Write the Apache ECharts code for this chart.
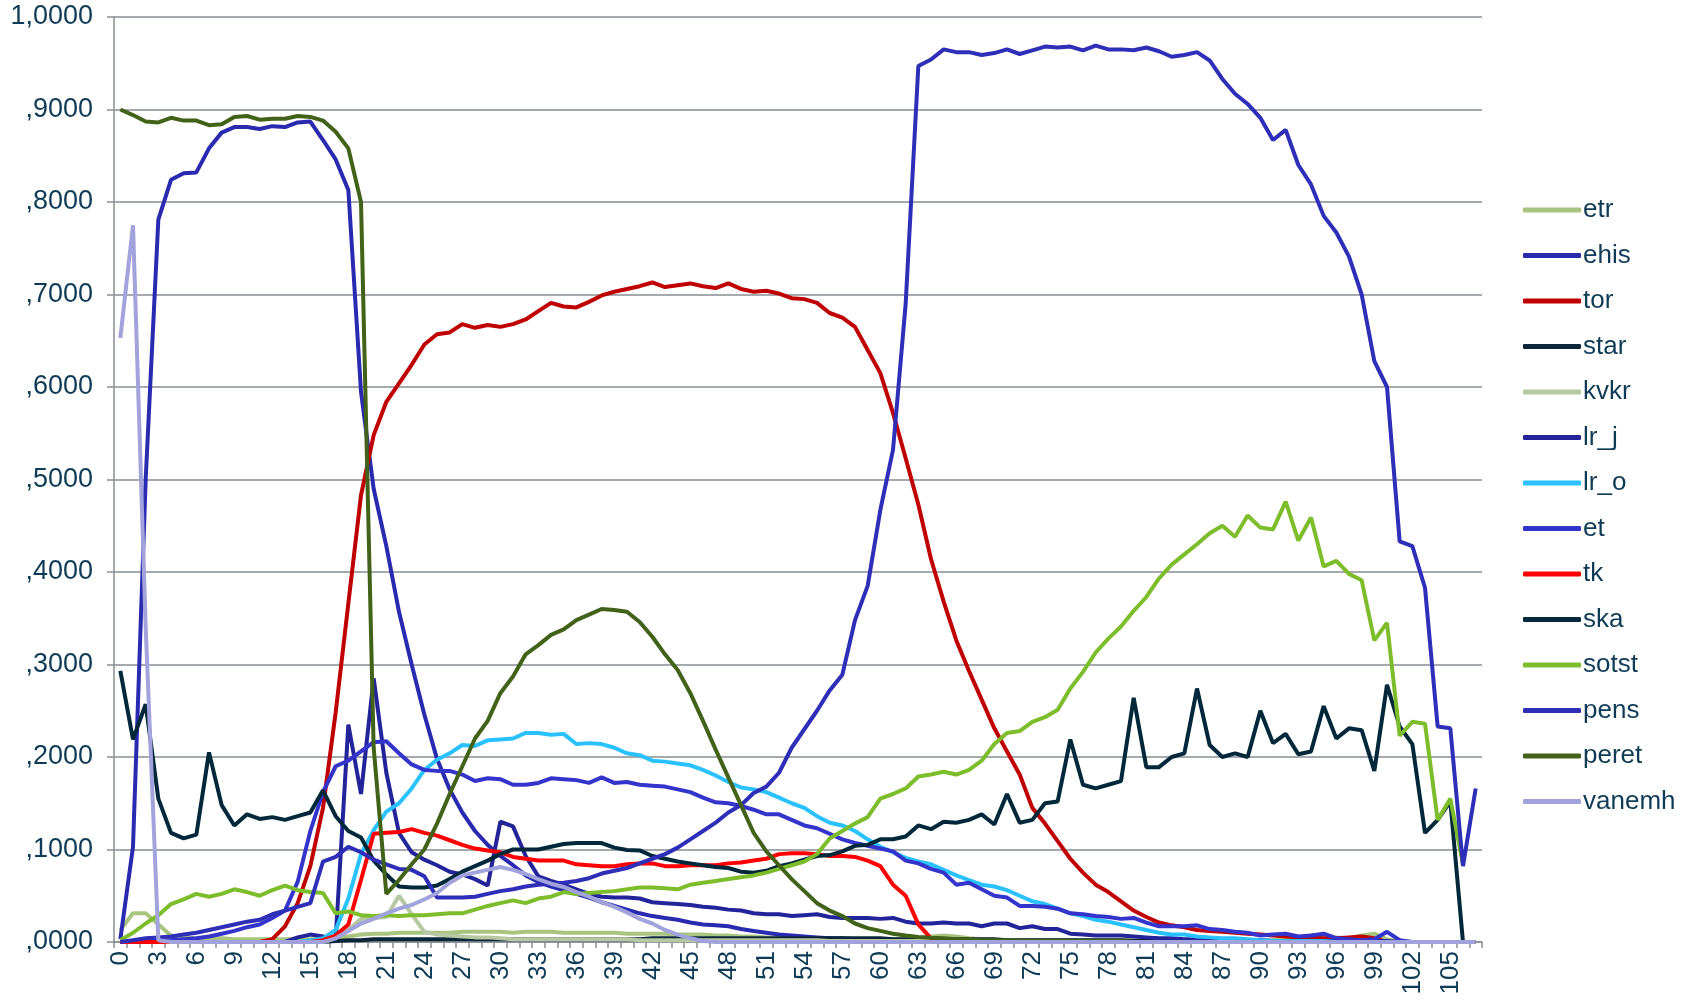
<!DOCTYPE html>
<html><head><meta charset="utf-8">
<script src="https://cdn.jsdelivr.net/npm/echarts@6/dist/echarts.min.js"></script>
<style>html,body{margin:0;padding:0;background:#fff}#c{width:1694px;height:1004px}</style>
</head><body><div id="c"></div>
<script>
const ages = ['0','1','2','3','4','5','6','7','8','9','10','11','12','13','14','15','16','17','18','19','20','21','22','23','24','25','26','27','28','29','30','31','32','33','34','35','36','37','38','39','40','41','42','43','44','45','46','47','48','49','50','51','52','53','54','55','56','57','58','59','60','61','62','63','64','65','66','67','68','69','70','71','72','73','74','75','76','77','78','79','80','81','82','83','84','85','86','87','88','89','90','91','92','93','94','95','96','97','98','99','100','101','102','103','104','105','106','107'];

const etr = [0.013,0.031,0.031,0.019,0.007,0.005,0.004,0.004,0.004,0.003,
 0.003,0.003,0.003,0.003,0.003,0.003,0.003,0.004,0.006,0.008,
 0.009,0.009,0.010,0.010,0.010,0.010,0.010,0.011,0.011,0.011,
 0.011,0.010,0.011,0.011,0.011,0.010,0.010,0.010,0.010,0.010,
 0.009,0.009,0.009,0.009,0.008,0.008,0.008,0.007,0.007,0.006,
 0.006,0.005,0.005,0.005,0.004,0.004,0.004,0.003,0.003,0.003,
 0.003,0.003,0.003,0.004,0.006,0.007,0.006,0.004,0.003,0.002,
 0.002,0.002,0.002,0.002,0.002,0.002,0.002,0.002,0.002,0.002,
 0.002,0.002,0.002,0.002,0.002,0.002,0.002,0.002,0.002,0.002,
 0.002,0.002,0.003,0.004,0.007,0.008,0.005,0.004,0.007,0.009,
 0.003,0,0,0,0,0,0,0];

const ehis = [0.003,0.103,0.50,0.781,0.824,0.831,0.832,0.858,0.875,0.881,
 0.881,0.879,0.882,0.881,0.886,0.887,0.867,0.846,0.813,0.595,
 0.49,0.428,0.357,0.30,0.246,0.198,0.165,0.14,0.12,0.105,
 0.093,0.083,0.072,0.065,0.060,0.056,0.052,0.048,0.043,0.039,
 0.035,0.031,0.028,0.026,0.024,0.021,0.019,0.018,0.017,0.014,
 0.012,0.010,0.008,0.007,0.006,0.005,0.004,0.004,0.003,0.003,
 0.002,0.002,0.002,0.002,0.001,0.001,0.001,0.001,0.001,0.001,
 0.001,0.001,0.001,0.001,0.001,0,0,0,0,0,
 0,0,0,0,0,0,0,0,0,0,
 0,0,0,0,0,0,0,0,0,0,
 0,0,0,0,0,0,0,0];

const tor = [0,0,0,0,0,0,0,0,0,0,
 0,0,0.003,0.017,0.042,0.082,0.145,0.248,0.366,0.483,
 0.548,0.584,0.604,0.624,0.646,0.657,0.659,0.668,0.664,0.667,
 0.665,0.668,0.673,0.682,0.691,0.687,0.686,0.692,0.699,0.703,
 0.706,0.709,0.713,0.708,0.710,0.712,0.709,0.707,0.712,0.706,
 0.703,0.704,0.701,0.696,0.695,0.691,0.680,0.675,0.665,0.640,
 0.615,0.572,0.523,0.473,0.414,0.368,0.326,0.293,0.262,0.231,
 0.206,0.181,0.145,0.128,0.109,0.090,0.075,0.062,0.054,0.044,
 0.034,0.027,0.021,0.018,0.016,0.013,0.012,0.011,0.010,0.009,
 0.008,0.007,0.006,0.005,0.005,0.004,0.004,0.005,0.006,0.004,
 0,0,0,0,0,0,0,0];

const star = [0,0,0,0,0,0,0,0,0,0,
 0,0,0,0,0,0,0,0.001,0.002,0.002,
 0.003,0.003,0.003,0.003,0.003,0.003,0.003,0.003,0.003,0.003,
 0.003,0.003,0.003,0.003,0.003,0.003,0.003,0.003,0.003,0.003,
 0.003,0.003,0.004,0.004,0.004,0.004,0.004,0.004,0.004,0.004,
 0.004,0.004,0.004,0.004,0.004,0.004,0.004,0.004,0.004,0.004,
 0.004,0.003,0.003,0.003,0.003,0.003,0.003,0.003,0.003,0.003,
 0.002,0.002,0.002,0.002,0.002,0.002,0.002,0.002,0.002,0.002,
 0.001,0.001,0.001,0.001,0.001,0.001,0.001,0.001,0.001,0.001,
 0,0,0,0,0,0,0,0,0,0,
 0,0,0,0,0,0,0,0];

const kvkr = [0,0,0,0,0,0,0,0,0,0,
 0,0,0,0,0,0,0,0.004,0.013,0.025,
 0.026,0.027,0.050,0.030,0.011,0.008,0.007,0.006,0.005,0.005,
 0.004,0.003,0.003,0.003,0.003,0.003,0.003,0.003,0.003,0.003,
 0.003,0.002,0.002,0.002,0.002,0.002,0.002,0.002,0.002,0.002,
 0.002,0.002,0.002,0.002,0.002,0.002,0.001,0.001,0.001,0.001,
 0.001,0.001,0.001,0.001,0.001,0.001,0.001,0.001,0.001,0.001,
 0.001,0,0,0,0,0,0,0,0,0,
 0,0,0,0,0,0,0,0,0,0,
 0,0,0,0,0,0,0,0,0,0,
 0,0,0,0,0,0,0,0];

const lr_j = [0,0,0,0,0,0,0,0,0,0,
 0,0,0,0,0.005,0.008,0.006,0.003,0.235,0.160,
 0.285,0.183,0.118,0.097,0.089,0.083,0.076,0.073,0.068,0.061,
 0.130,0.125,0.093,0.071,0.066,0.062,0.057,0.052,0.049,0.048,
 0.048,0.047,0.043,0.042,0.041,0.040,0.038,0.037,0.035,0.034,
 0.031,0.030,0.030,0.028,0.029,0.030,0.027,0.026,0.026,0.026,
 0.025,0.026,0.022,0.020,0.020,0.021,0.020,0.020,0.017,0.020,
 0.020,0.015,0.017,0.014,0.014,0.009,0.008,0.007,0.007,0.007,
 0.006,0.005,0.004,0.004,0.003,0.003,0.002,0.002,0.002,0.002,
 0.002,0.001,0.001,0.001,0.001,0.001,0.001,0.001,0.001,0.001,
 0.001,0,0,0,0,0,0,0];

const lr_o = [0,0,0,0,0,0,0,0,0,0,
 0,0,0,0,0,0.0015,0.004,0.013,0.047,0.095,
 0.121,0.141,0.150,0.166,0.186,0.197,0.204,0.213,0.212,0.218,
 0.219,0.220,0.226,0.226,0.224,0.225,0.214,0.215,0.214,0.210,
 0.204,0.202,0.196,0.195,0.193,0.191,0.186,0.180,0.173,0.167,
 0.165,0.162,0.156,0.150,0.145,0.136,0.129,0.126,0.120,0.111,
 0.103,0.097,0.091,0.087,0.084,0.078,0.072,0.067,0.062,0.060,
 0.056,0.050,0.044,0.041,0.036,0.031,0.028,0.024,0.022,0.019,
 0.016,0.013,0.010,0.008,0.008,0.006,0.005,0.004,0.004,0.003,
 0.002,0.001,0.001,0.001,0.001,0.001,0,0,0,0,
 0,0,0,0,0,0,0,0];

const et = [0,0.001,0.001,0.002,0.002,0.003,0.004,0.006,0.009,0.012,
 0.016,0.019,0.026,0.034,0.065,0.120,0.162,0.190,0.196,0.206,
 0.216,0.217,0.204,0.192,0.186,0.185,0.185,0.181,0.174,0.177,
 0.176,0.170,0.170,0.172,0.177,0.176,0.175,0.172,0.178,0.172,
 0.173,0.170,0.169,0.168,0.165,0.162,0.156,0.151,0.150,0.147,
 0.143,0.138,0.138,0.132,0.126,0.123,0.117,0.111,0.107,0.104,
 0.101,0.098,0.088,0.085,0.079,0.075,0.062,0.064,0.057,0.050,
 0.048,0.039,0.039,0.038,0.036,0.031,0.030,0.028,0.027,0.025,
 0.026,0.021,0.017,0.017,0.017,0.018,0.014,0.013,0.011,0.010,
 0.007,0.008,0.009,0.006,0.007,0.009,0.004,0.003,0.002,0.003,
 0.011,0.002,0,0,0,0,0,0];

const tk = [0,0,0,0,0,0,0,0,0,0,
 0,0,0,0,0,0,0.002,0.007,0.019,0.067,
 0.117,0.118,0.119,0.122,0.118,0.115,0.110,0.105,0.101,0.099,
 0.097,0.092,0.090,0.088,0.088,0.088,0.084,0.083,0.082,0.082,
 0.084,0.085,0.085,0.082,0.082,0.083,0.083,0.083,0.085,0.086,
 0.088,0.090,0.095,0.096,0.096,0.095,0.093,0.093,0.092,0.088,
 0.082,0.062,0.050,0.019,0.004,0,0,0,0,0,
 0,0,0,0,0,0,0,0,0,0,
 0,0,0,0,0,0,0,0,0,0,
 0,0,0,0,0,0,0,0,0,0,
 0,0,0,0,0,0,0,0];

const ska = [0.293,0.219,0.257,0.155,0.118,0.112,0.116,0.205,0.148,0.126,
 0.138,0.133,0.135,0.132,0.136,0.140,0.164,0.136,0.120,0.113,
 0.088,0.073,0.060,0.059,0.059,0.061,0.068,0.076,0.082,0.088,
 0.095,0.100,0.100,0.100,0.103,0.106,0.107,0.107,0.107,0.102,
 0.0995,0.099,0.093,0.090,0.087,0.085,0.083,0.081,0.080,0.076,
 0.075,0.077,0.082,0.085,0.089,0.093,0.094,0.098,0.104,0.105,
 0.111,0.111,0.114,0.126,0.122,0.130,0.129,0.132,0.138,0.127,
 0.160,0.129,0.132,0.150,0.152,0.219,0.170,0.166,0.170,0.174,
 0.264,0.189,0.189,0.200,0.204,0.274,0.213,0.200,0.204,0.200,
 0.250,0.215,0.225,0.203,0.206,0.255,0.220,0.231,0.229,0.185,
 0.278,0.233,0.214,0.118,0.132,0.152,0,null];

const sotst = [0.002,0.010,0.020,0.029,0.041,0.046,0.052,0.049,0.052,0.057,
 0.054,0.050,0.056,0.061,0.056,0.054,0.053,0.031,0.033,0.029,
 0.028,0.029,0.028,0.029,0.029,0.030,0.031,0.031,0.035,0.039,
 0.042,0.045,0.042,0.047,0.049,0.054,0.052,0.053,0.054,0.055,
 0.057,0.059,0.059,0.058,0.057,0.062,0.064,0.066,0.068,0.070,
 0.072,0.075,0.079,0.083,0.087,0.095,0.112,0.120,0.128,0.135,
 0.155,0.160,0.166,0.179,0.181,0.184,0.181,0.186,0.196,0.214,
 0.226,0.228,0.238,0.243,0.251,0.274,0.292,0.313,0.328,0.341,
 0.358,0.373,0.393,0.408,0.419,0.430,0.442,0.450,0.438,0.461,
 0.448,0.446,0.476,0.434,0.459,0.406,0.412,0.398,0.391,0.326,
 0.345,0.223,0.238,0.236,0.132,0.155,0.084,null];

const pens = [0,0.002,0.004,0.005,0.006,0.008,0.010,0.013,0.016,0.019,
 0.022,0.024,0.030,0.034,0.038,0.042,0.087,0.092,0.103,0.097,
 0.089,0.084,0.079,0.078,0.071,0.048,0.048,0.048,0.049,0.052,
 0.055,0.057,0.060,0.062,0.063,0.064,0.066,0.069,0.074,0.077,
 0.080,0.085,0.090,0.095,0.102,0.111,0.120,0.129,0.140,0.148,
 0.161,0.168,0.183,0.210,0.230,0.250,0.272,0.289,0.348,0.385,
 0.467,0.532,0.690,0.947,0.954,0.965,0.962,0.962,0.959,0.961,
 0.965,0.960,0.964,0.968,0.967,0.968,0.964,0.969,0.965,0.965,
 0.964,0.967,0.963,0.957,0.959,0.962,0.953,0.933,0.917,0.906,
 0.891,0.867,0.878,0.840,0.819,0.785,0.767,0.741,0.700,0.628,
 0.600,0.433,0.428,0.383,0.233,0.231,0.082,0.166];

const peret = [0.900,0.894,0.887,0.886,0.891,0.888,0.888,0.883,0.884,0.892,
 0.893,0.889,0.890,0.890,0.893,0.892,0.888,0.876,0.858,0.800,
 0.210,0.052,0.067,0.084,0.100,0.128,0.160,0.190,0.220,0.239,
 0.269,0.287,0.311,0.321,0.332,0.338,0.348,0.354,0.360,0.359,
 0.357,0.346,0.330,0.311,0.294,0.269,0.239,0.208,0.178,0.148,
 0.118,0.098,0.083,0.068,0.055,0.042,0.034,0.028,0.020,0.015,
 0.012,0.009,0.007,0.0055,0.0045,0.004,0.003,0.003,0.002,0.002,
 0.002,0.001,0.001,0.001,0.001,0.001,0.001,0.001,0.001,0.001,
 0,0,0,0,0,0,0,0,0,0,
 0,0,0,0,0,0,0,0,0,0,
 0,0,0,0,0,0,0,0];

const vanemh = [0.653,0.775,0.341,0.002,0,0,0,0,0,0,
 0,0,0,0,0,0,0,0.004,0.012,0.020,
 0.025,0.031,0.036,0.040,0.046,0.053,0.064,0.072,0.075,0.078,
 0.081,0.078,0.0735,0.068,0.063,0.0595,0.054,0.049,0.043,0.038,
 0.032,0.025,0.020,0.013,0.008,0.004,0.001,0,0,0,
 0,0,0,0,0,0,0,0,0,0,
 0,0,0,0,0,0,0,0,0,0,
 0,0,0,0,0,0,0,0,0,0,
 0,0,0,0,0,0,0,0,0,0,
 0,0,0,0,0,0,0,0,0,0,
 0,0,0,0,0,0,0,0];

const seriesNames = ['etr','ehis','tor','star','kvkr','lr_j','lr_o','et','tk','ska','sotst','pens','peret','vanemh'];
const seriesData = [etr,ehis,tor,star,kvkr,lr_j,lr_o,et,tk,ska,sotst,pens,peret,vanemh];
const seriesColors = ['#a9c47f','#2a2ab0','#c00000','#0a2638','#b7c8a2','#23239a','#29c1ff','#3434cc','#ff0000','#00283a','#7dbd2b','#2e2eb8','#436219','#a2a2dc'];

const txt = '#0e3b55';
const fam = 'Liberation Sans, Arial, sans-serif';
const chart = echarts.init(document.getElementById('c'), null, {renderer:'canvas'});
chart.setOption({
  animation:false,
  backgroundColor:'#ffffff',
  grid:{left:114, right:212, top:17, bottom:62, containLabel:false},
  legend:{
    orient:'vertical', left:1518, top:190,
    itemWidth:58, itemHeight:5, itemGap:15.5, icon:'roundRect',
    textStyle:{fontFamily:fam, fontSize:26, color:txt, lineHeight:30, padding:[0,0,0,-3]},
    data:seriesNames
  },
  xAxis:{
    type:'category', data:ages, boundaryGap:true,
    axisLine:{show:true, lineStyle:{color:'#878e95', width:1.5}},
    axisTick:{show:true, interval:0, length:6, lineStyle:{color:'#878e95', width:1.5}},
    axisLabel:{interval:2, rotate:90, fontFamily:fam, fontSize:26, color:txt, margin:9},
    splitLine:{show:false}
  },
  yAxis:{
    type:'value', min:0, max:1, interval:0.1,
    axisLine:{show:true, lineStyle:{color:'#878e95', width:1.5}},
    axisTick:{show:true, length:7, lineStyle:{color:'#878e95', width:1.5}},
    splitLine:{show:true, lineStyle:{color:'#878e95', width:1.5}},
    axisLabel:{fontFamily:fam, fontSize:27, color:txt, margin:21,
      formatter:function(v){ if(v>=0.99999) return '1,0000'; return ',' + String(Math.round(v*10000)).padStart(4,'0'); }}
  },
  series: seriesNames.map(function(n,i){
    return {name:n, type:'line', data:seriesData[i], showSymbol:false, symbol:'none',
      color:seriesColors[i], lineStyle:{width:4, color:seriesColors[i]},
      emphasis:{disabled:true}, connectNulls:false};
  })
});
</script>
</body></html>
